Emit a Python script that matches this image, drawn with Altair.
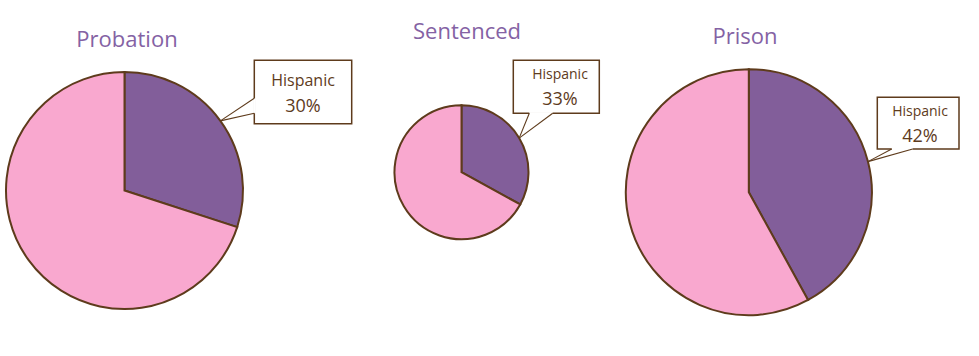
import math
import altair as alt
import pandas as pd

# ---------------- data ----------------
panels = ["Probation", "Sentenced", "Prison"]
hispanic_pct = [30, 33, 42]
other_pct = [70, 67, 58]
groups = ["Hispanic", "Non-Hispanic"]

# ---------------- layout (pixels) ----------------
W, H = 979, 356
pie_cx = [124.5, 461.5, 748.8]
pie_cy = [190.5, 172.2, 192.2]
pie_r = [118.5, 67.0, 123.0]
title_x = [127, 467, 745]
title_y = [46.7, 38.7, 44.3]
# callout boxes: left, top, right, bottom
box = [(254.3, 60.3, 351.7, 123.7), (513.3, 60.3, 599.3, 113.3), (877.3, 97.3, 959.0, 149.0)]
# pointer base points on the box edge
base = [((254.3, 98.3), (254.3, 113.3)), ((529.3, 113.3), (552.7, 113.3)), ((891.7, 149.0), (912.7, 149.0))]
text_cx = [303, 560, 920]
label_base = [85.7, 79.3, 116.0]
pct_base = [112.3, 105.3, 141.7]
label_size = [16, 14, 14]

PURPLE = "#825E9A"
PINK = "#F9A8CF"
BROWN = "#5E3B1C"
TITLE = "#8462A4"
FONT = "Open Sans"

layers = []

# pies
for i, name in enumerate(panels):
    df = pd.DataFrame({
        "group": groups,
        "value": [hispanic_pct[i], other_pct[i]],
        "order": [0, 1],
        "panel": [name, name],
    })
    pie = alt.Chart(df).mark_arc(
        radius=pie_r[i], stroke=BROWN, strokeWidth=2
    ).encode(
        theta=alt.Theta("value:Q", stack=True),
        color=alt.Color("group:N", scale=alt.Scale(domain=groups, range=[PURPLE, PINK]), legend=None),
        order=alt.Order("order:Q"),
        x=alt.value(pie_cx[i]),
        y=alt.value(pie_cy[i]),
    )
    layers.append(pie)

# titles
tdf = pd.DataFrame({"panel": panels, "x": title_x, "y": title_y})
layers.append(
    alt.Chart(tdf).mark_text(font=FONT, fontSize=22, color=TITLE, align="center", baseline="alphabetic").encode(
        x=alt.X("x:Q", scale=None), y=alt.Y("y:Q", scale=None), text="panel:N"
    )
)

# callout boxes
bdf = pd.DataFrame({
    "x0": [b[0] for b in box], "y0": [b[1] for b in box],
    "x1": [b[2] for b in box], "y1": [b[3] for b in box],
})
layers.append(
    alt.Chart(bdf).mark_rect(fill="white", stroke=BROWN, strokeWidth=1.5).encode(
        x=alt.X("x0:Q", scale=None), x2="x1:Q", y=alt.Y("y0:Q", scale=None), y2="y1:Q"
    )
)

# gap in the box edge where the pointer attaches (white cover)
gdf = pd.DataFrame({
    "x0": [b[0][0] for b in base], "y0": [b[0][1] for b in base],
    "x1": [b[1][0] for b in base], "y1": [b[1][1] for b in base],
})
layers.append(
    alt.Chart(gdf).mark_rule(color="white", strokeWidth=2.5).encode(
        x=alt.X("x0:Q", scale=None), x2="x1:Q", y=alt.Y("y0:Q", scale=None), y2="y1:Q"
    )
)

# pointer lines: from base points to pie edge at slice mid-angle
rows = []
for i in range(3):
    a = math.radians(hispanic_pct[i] / 100 * 360 / 2)
    tx = pie_cx[i] + pie_r[i] * math.sin(a)
    ty = pie_cy[i] - pie_r[i] * math.cos(a)
    for bx, by in base[i]:
        rows.append({"x0": bx, "y0": by, "x1": tx, "y1": ty})
pdf = pd.DataFrame(rows)
layers.append(
    alt.Chart(pdf).mark_rule(color=BROWN, strokeWidth=1.1).encode(
        x=alt.X("x0:Q", scale=None), x2="x1:Q", y=alt.Y("y0:Q", scale=None), y2="y1:Q"
    )
)

# callout text
ldf = pd.DataFrame({
    "label": ["Hispanic"] * 3,
    "pct": [f"{v}%" for v in hispanic_pct],
    "x": text_cx, "yl": label_base, "yp": pct_base, "size": label_size,
})
layers.append(
    alt.Chart(ldf).mark_text(font=FONT, color=BROWN, align="center", baseline="alphabetic").encode(
        x=alt.X("x:Q", scale=None), y=alt.Y("yl:Q", scale=None), text="label:N",
        size=alt.Size("size:Q", scale=None, legend=None),
    )
)
layers.append(
    alt.Chart(ldf).mark_text(font=FONT, fontSize=18, color=BROWN, align="center", baseline="alphabetic").encode(
        x=alt.X("x:Q", scale=None), y=alt.Y("yp:Q", scale=None), text="pct:N"
    )
)

chart = alt.layer(*layers).properties(
    width=W, height=H, padding=0, autosize=alt.AutoSizeParams(type="none"), background="white"
).configure_view(stroke=None)

chart.save("out.html", embed_options={"renderer": "svg", "actions": False})
